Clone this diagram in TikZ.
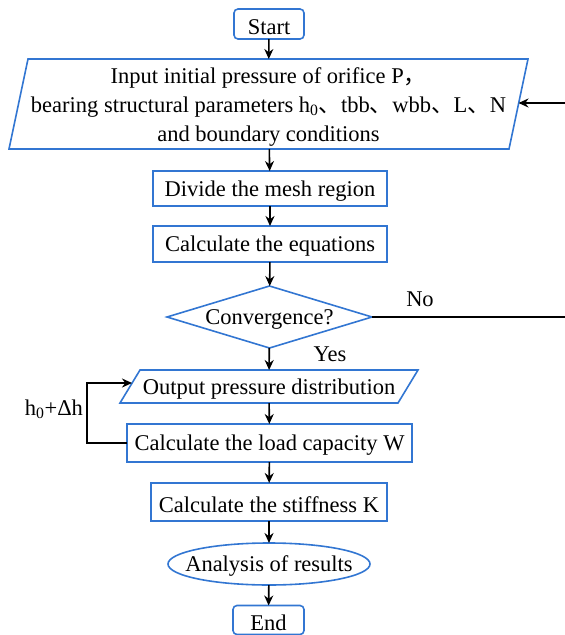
\documentclass[tikz,border=0pt]{standalone}
\usepackage{fontspec}
\setmainfont{Liberation Serif}
\newfontfamily\cjk{Noto Sans CJK SC}
\usetikzlibrary{shapes.geometric,arrows.meta,calc}
\definecolor{boxblue}{RGB}{50,118,210}
\newcommand{\dunhao}{{\cjk 、}}
\newcommand{\fwcomma}{{\cjk ，}}
\newcommand{\lowerstrut}{\rule{0pt}{20.5pt}}
\begin{document}
\begin{tikzpicture}[x=1pt,y=-1pt,
  every node/.style={font=\fontsize{22.5}{29}\selectfont, outer sep=0pt},
  blueline/.style={draw=boxblue, line width=1.6pt},
  lowered/.style={execute at begin node=\lowerstrut},
  proc/.style={blueline, rectangle, inner sep=0pt, lowered},
  term/.style={blueline, rectangle, rounded corners=4pt, inner sep=0pt, lowered},
  iotext/.style={rectangle, inner sep=0pt, align=center, lowered},
  decision/.style={blueline, diamond, inner xsep=0pt, inner ysep=-2.5pt, aspect=3.3, lowered},
  terminal/.style={blueline, ellipse, inner xsep=-20pt, inner ysep=0pt, lowered},
  conn/.style={draw=black, line width=1.6pt, -{Stealth[length=10pt,width=9pt]}},
  lbl/.style={inner sep=0pt}
]
\useasboundingbox (0,0) rectangle (565,635);

\node[term, minimum width=70pt, minimum height=30pt] (start) at (269,24) {Start};
\node[iotext, minimum width=519pt, minimum height=90pt] (input) at (268.5,104)
  {\rule{0pt}{21.5pt}Input initial pressure of orifice P\fwcomma\\
   bearing structural parameters h\textsubscript{0}\dunhao tbb\dunhao wbb\dunhao L\dunhao N\\
   and boundary conditions};
\draw[blueline] (input.south west) -- ($(input.north west)+(19,0)$) -- (input.north east)
  -- ($(input.south east)+(-19,0)$) -- cycle;
\coordinate (inR) at ($(input.east)+(-9.5,-1)$);

\node[proc, minimum width=234pt, minimum height=35pt] (mesh) at (270,188.5) {Divide the mesh region};
\node[proc, minimum width=234pt, minimum height=36pt] (eqs) at (270,244) {Calculate the equations};
\node[decision, minimum width=205pt, minimum height=62pt] (conv) at (269.5,317) {Convergence?};

\node[iotext, minimum width=298pt, minimum height=33pt] (out) at (269,386.5) {Output pressure distribution};
\draw[blueline] (out.south west) -- ($(out.north west)+(20,0)$) -- (out.north east)
  -- ($(out.south east)+(-20,0)$) -- cycle;
\coordinate (outL) at ($(out.west)+(12,-3.5)$);

\node[proc, minimum width=285pt, minimum height=38pt] (load) at (269.5,443) {Calculate the load capacity W};
\node[proc, minimum width=236pt, minimum height=38pt] (stiff) at (269,502) {Calculate the stiffness K};
\node[terminal, minimum width=202pt, minimum height=42pt] (ana) at (269,564) {Analysis of results};
\node[term, minimum width=71pt, minimum height=29pt] (end) at (268.5,620) {End};

\node[lbl] (yes) at (330,354) {Yes};
\node[lbl] (no) at (420,299) {No};
\node[lbl, anchor=east] (dh) at (83,409) {h\textsubscript{0}+Δh};

\coordinate (fb) at (567,317);
\coordinate (loopc) at (87,443);

\draw[conn] (start) -- (input);
\draw[conn] (input) -- (mesh);
\draw[conn] (mesh) -- (eqs);
\draw[conn] (eqs) -- (conv);
\draw[conn] (conv) -- (out);
\draw[conn] (out) -- (load);
\draw[conn] (load) -- (stiff);
\draw[conn] (stiff) -- (ana);
\draw[conn] (ana) -- (end);
\draw[conn] (conv.east) -- (fb) |- (inR);
\draw[conn] (load.west) -- (loopc) |- (outL);
\end{tikzpicture}
\end{document}
